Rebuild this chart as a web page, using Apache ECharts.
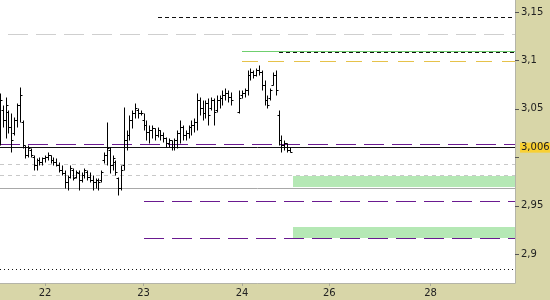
<!DOCTYPE html>
<html>
<head>
<meta charset="utf-8">
<script src="https://cdn.jsdelivr.net/npm/echarts@6/dist/echarts.min.js"></script>
<style>
  html, body { margin: 0; padding: 0; }
  #chart { width: 550px; height: 300px; }
</style>
</head>
<body>
<div id="chart"></div>
<script>
// time slots on the x axis (one per bar), day labels on some of them
const slotCount = 184;
const dayTickSlots = [16, 51, 86, 117, 153];
const dayTickLabels = ["22", "23", "24", "26", "28"];

// OHLC bars, one per slot from slot 0 (null = no trading)
const opens = [
  3.028, 3.049, 3.039, 3.047, 3.031, 3.025, 3.039, 3.054, 3.036, 3.011,
  3.002, 3.008, 3.000, 2.992, 2.997, 2.995, 2.999, 3.000, 3.002, 2.997,
  2.995, 2.992, 2.987, 2.984, 2.975, 2.980, 2.987, 2.980, 2.984, 2.977,
  2.982, 2.985, 2.980, 2.977, 2.975, 2.977, 2.977, 2.997, 3.002, 3.008,
  2.992, 2.995, 2.979, 2.968, 2.992, 3.018, 3.023, 3.039, 3.046, 3.049,
  3.046, 3.039, 3.033, 3.026, 3.028, 3.030, 3.023, 3.028, 3.023, 3.020,
  3.015, 3.018, 3.011, 3.018, 3.025, 3.031, 3.023, 3.025, 3.031, 3.033,
  3.036, 3.059, 3.051, 3.046, 3.056, 3.051, 3.059, 3.049, 3.059, 3.061,
  3.064, 3.066, 3.062, null, null, 3.047, 3.064, 3.066, 3.070, 3.085,
  3.088, 3.085, 3.090, 3.088, 3.075, 3.059, 3.061, 3.075, 3.085, 3.044,
  3.018, 3.013, 3.015, 3.008
];
const closes = [
  3.059, 3.039, 3.054, 3.031, 3.018, 3.039, 3.054, 3.064, 3.013, 3.002,
  3.010, 3.002, 2.992, 2.997, 2.995, 2.999, 3.000, 3.002, 2.997, 2.995,
  2.992, 2.987, 2.984, 2.975, 2.980, 2.989, 2.979, 2.985, 2.977, 2.982,
  2.987, 2.980, 2.977, 2.975, 2.977, 2.975, 2.985, 3.002, 3.010, 2.992,
  2.999, 2.985, 2.968, 2.987, 3.018, 3.023, 3.039, 3.046, 3.051, 3.046,
  3.046, 3.033, 3.026, 3.028, 3.030, 3.023, 3.028, 3.023, 3.020, 3.015,
  3.018, 3.011, 3.018, 3.025, 3.031, 3.023, 3.025, 3.031, 3.033, 3.036,
  3.059, 3.051, 3.046, 3.056, 3.044, 3.059, 3.047, 3.059, 3.061, 3.064,
  3.066, 3.062, 3.059, null, null, 3.061, 3.066, 3.070, 3.085, 3.088,
  3.085, 3.090, 3.088, 3.075, 3.059, 3.054, 3.070, 3.085, 3.070, 3.018,
  3.013, 3.015, 3.008, 3.006
];
const lows = [
  3.013, 3.031, 3.020, 3.025, 3.006, 3.023, 3.031, 3.036, 3.010, 2.999,
  3.000, 3.000, 2.987, 2.987, 2.992, 2.992, 2.995, 2.997, 2.994, 2.992,
  2.991, 2.985, 2.982, 2.968, 2.966, 2.979, 2.977, 2.979, 2.966, 2.975,
  2.979, 2.977, 2.975, 2.966, 2.968, 2.966, 2.975, 2.994, 2.992, 2.984,
  2.987, 2.982, 2.961, 2.966, 2.987, 3.008, 3.018, 3.030, 3.041, 3.041,
  3.044, 3.028, 3.018, 3.015, 3.020, 3.018, 3.021, 3.018, 3.016, 3.011,
  3.011, 3.008, 3.008, 3.010, 3.015, 3.018, 3.018, 3.020, 3.023, 3.026,
  3.028, 3.044, 3.039, 3.041, 3.033, 3.049, 3.033, 3.047, 3.051, 3.054,
  3.059, 3.057, 3.054, null, null, 3.046, 3.061, 3.062, 3.064, 3.080,
  3.082, 3.084, 3.085, 3.070, 3.054, 3.051, 3.059, 3.075, 3.064, 3.013,
  3.006, 3.008, 3.006, 3.005
];
const highs = [
  3.066, 3.054, 3.062, 3.049, 3.046, 3.042, 3.056, 3.073, 3.039, 3.013,
  3.013, 3.010, 3.002, 2.999, 3.000, 3.000, 3.002, 3.005, 3.002, 3.000,
  2.999, 2.995, 2.992, 2.987, 2.982, 2.992, 2.989, 2.987, 2.987, 2.985,
  2.989, 2.987, 2.985, 2.982, 2.979, 2.979, 2.987, 3.005, 3.036, 3.011,
  3.002, 2.997, 2.980, 2.992, 3.052, 3.028, 3.044, 3.049, 3.056, 3.051,
  3.049, 3.046, 3.039, 3.033, 3.033, 3.030, 3.031, 3.028, 3.026, 3.021,
  3.020, 3.018, 3.020, 3.028, 3.039, 3.033, 3.028, 3.033, 3.039, 3.041,
  3.066, 3.062, 3.059, 3.059, 3.061, 3.062, 3.061, 3.064, 3.064, 3.070,
  3.072, 3.070, 3.067, null, null, 3.070, 3.070, 3.072, 3.090, 3.092,
  3.090, 3.092, 3.095, 3.090, 3.080, 3.064, 3.072, 3.088, 3.090, 3.049,
  3.023, 3.018, 3.015, 3.011
];

// horizontal levels: price and first slot
const levelPrices = [3.1448, 3.1273, 3.1097, 3.1087, 3.0994, 3.0136, 2.9930, 2.9816, 2.9681, 2.9545, 2.9165, 2.8845];
const levelStarts = [56, 3, 86, 99, 86, 0, 0, 0, 0, 51, 51, 0];
const lastPrice = 3.006;

// support zones (low, high) from slot 104
const zoneRanges = [[2.9697, 2.9806], [2.9171, 2.9278]];
const zoneStart = 104;

// styles for each level, same order as levelPrices
const levelStyles = [
  { color: "#111", dash: [4, 3] },
  { color: "#cfcfcf", dash: [20, 8] },
  { color: "#6fcf6f", dash: null },
  { color: "#111", dash: [4, 3] },
  { color: "#e6c24a", dash: [16, 10] },
  { color: "#6a1a90", dash: [20, 8] },
  { color: "#c8c8c8", dash: [4, 4] },
  { color: "#c8c8c8", dash: [4, 4] },
  { color: "#a8a8a8", dash: null },
  { color: "#6a1a90", dash: [20, 8] },
  { color: "#6a1a90", dash: [20, 8] },
  { color: "#111", dash: [1, 3] },
];

const categories = [];
for (let i = 0; i < slotCount; i++) {
  const k = dayTickSlots.indexOf(i);
  categories.push(k >= 0 ? dayTickLabels[k] : "");
}

const bars = [];
for (let i = 0; i < opens.length; i++) {
  if (opens[i] == null) continue;
  bars.push([i, opens[i], closes[i], lows[i], highs[i]]);
}

const levels = levelPrices.map((p, k) => [levelStarts[k], p, k]);

const fmt = (v) => String(+v.toFixed(3)).replace(".", ",");
const snap = (v) => Math.round(v) + 0.5;

const option = {
  backgroundColor: "#d8d6a8",
  animation: false,
  textStyle: { fontFamily: "DejaVu Sans" },
  grid: {
    left: 0, top: 0, right: 35, bottom: 17,
    outerBoundsMode: "none",
    containLabel: false,
    show: true, backgroundColor: "#ffffff", borderWidth: 0,
  },
  xAxis: {
    type: "category",
    data: categories,
    boundaryGap: false,
    axisLine: { lineStyle: { color: "#b4b4a8" } },
    axisTick: {
      length: 3,
      interval: (i, v) => v !== "",
      lineStyle: { color: "#a8a898" },
    },
    axisLabel: { interval: 0, color: "#222", fontSize: 10, margin: 5 },
    splitLine: { show: false },
  },
  yAxis: {
    type: "value",
    position: "right",
    min: 2.8703,
    max: 3.1624,
    axisLine: { show: true, lineStyle: { color: "#b4b4a8" } },
    axisTick: { show: true, length: 4, lineStyle: { color: "#555" } },
    axisLabel: {
      color: "#222",
      fontSize: 10,
      margin: 6,
      showMinLabel: false,
      showMaxLabel: false,
      formatter: (v) => (Math.abs(v - 3) < 1e-9 ? "" : fmt(v)),
    },
    splitLine: { show: false },
  },
  series: [
    {
      type: "custom",
      silent: true,
      z: 1,
      data: zoneRanges.map((r) => [zoneStart, r[0], r[1]]),
      renderItem: (params, api) => {
        const a = api.coord([api.value(0), api.value(2)]);
        const b = api.coord([slotCount - 1, api.value(1)]);
        const y1 = Math.round(a[1]), y2 = Math.round(b[1]);
        return {
          type: "rect",
          shape: { x: Math.round(a[0]), y: y1, width: Math.round(b[0] - a[0]), height: y2 - y1 },
          style: { fill: "#b5e8b5" },
        };
      },
    },
    {
      type: "custom",
      silent: true,
      z: 2,
      data: levels,
      renderItem: (params, api) => {
        const st = levelStyles[api.value(2)];
        const a = api.coord([api.value(0), api.value(1)]);
        const b = api.coord([slotCount - 1, api.value(1)]);
        const y = snap(a[1]);
        return {
          type: "line",
          shape: { x1: Math.round(a[0]), y1: y, x2: b[0], y2: y },
          style: { stroke: st.color, lineWidth: 1, lineDash: st.dash },
        };
      },
    },
    {
      type: "line",
      symbol: "none",
      silent: true,
      z: 3,
      data: [],
      markLine: {
        symbol: "none",
        silent: true,
        lineStyle: { width: 1, color: "#111", type: "solid" },
        data: [{ yAxis: lastPrice }],
        label: {
          show: true,
          position: "end",
          distance: 5,
          formatter: () => fmt(lastPrice),
          color: "#222",
          fontSize: 10,
          backgroundColor: "#f8d034",
          padding: [0, 2, 0, 1],
          lineHeight: 10,
        },
      },
    },
    {
      type: "custom",
      silent: true,
      z: 5,
      data: bars,
      encode: { x: 0, y: [1, 2, 3, 4] },
      renderItem: (params, api) => {
        const x = snap(api.coord([api.value(0), 0])[0]);
        const yo = snap(api.coord([0, api.value(1)])[1]);
        const yc = snap(api.coord([0, api.value(2)])[1]);
        const yl = snap(api.coord([0, api.value(3)])[1]);
        const yh = snap(api.coord([0, api.value(4)])[1]);
        const st = { stroke: "#000", lineWidth: 1 };
        return {
          type: "group",
          children: [
            { type: "line", shape: { x1: x, y1: yh, x2: x, y2: yl }, style: st },
            { type: "line", shape: { x1: x - 2, y1: yo, x2: x, y2: yo }, style: st },
            { type: "line", shape: { x1: x, y1: yc, x2: x + 2, y2: yc }, style: st },
          ],
        };
      },
    },
  ],
};

const myChart = echarts.init(document.getElementById("chart"));
myChart.setOption(option);
</script>
</body>
</html>
